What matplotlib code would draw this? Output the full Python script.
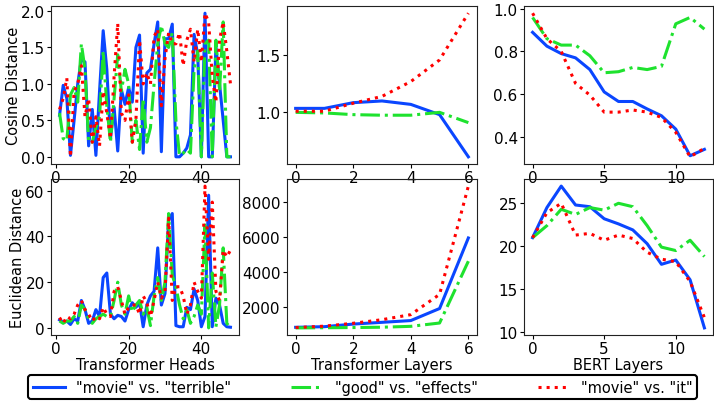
import matplotlib
matplotlib.use("Agg")
import matplotlib.pyplot as plt
import numpy as np

heads = list(range(1, 49))
layers = list(range(0, 7))
bert_layers = list(range(0, 13))

labels = ['"movie" vs. "terrible"', '"good" vs. "effects"', '"movie" vs. "it"']

# Transformer heads - cosine
heads_cos_terrible = [0.57, 0.98, 0.80, 0.02, 0.50, 1.00, 1.34, 1.30, 0.15, 0.65,
                      0.02, 0.90, 1.73, 1.20, 0.25, 0.68, 0.08, 0.92, 0.72, 0.95,
                      0.75, 1.50, 1.67, 0.05, 1.15, 1.20, 1.55, 1.85, 0.07, 1.62,
                      1.62, 1.82, 0.00, 0.00, 0.05, 0.12, 0.30, 1.68, 1.40, 0.00,
                      1.97, 0.00, 0.00, 1.52, 1.00, 0.50, 0.00, 0.00]
heads_cos_effects = [0.60, 0.25, 0.22, 0.85, 0.95, 0.75, 1.55, 1.20, 0.20, 0.20,
                     0.40, 0.55, 1.45, 0.70, 0.20, 0.80, 1.40, 0.90, 1.20, 1.00,
                     0.20, 0.50, 0.10, 0.80, 0.20, 0.40, 1.00, 1.55, 1.80, 1.55,
                     1.50, 1.70, 0.50, 0.02, 0.05, 0.10, 0.05, 1.20, 1.45, 0.00,
                     1.55, 1.60, 0.00, 1.60, 0.90, 1.85, 0.00, 0.00]
heads_cos_it = [0.65, 0.80, 1.08, 0.00, 0.90, 1.00, 1.25, 0.55, 0.80, 0.20,
                0.55, 0.15, 0.90, 0.60, 0.25, 1.10, 1.83, 0.60, 0.50, 0.85,
                0.20, 0.50, 1.60, 1.00, 1.15, 1.00, 1.65, 1.75, 0.70, 1.35,
                1.70, 1.55, 1.55, 1.70, 1.25, 1.60, 1.75, 1.30, 1.75, 1.30,
                1.97, 1.85, 1.10, 0.75, 1.60, 1.85, 1.45, 1.00]

# Transformer heads - euclidean
heads_euc_terrible = [3.5, 2.5, 3.0, 1.5, 4.0, 3.0, 12.0, 8.0, 2.0, 3.0,
                      8.0, 5.0, 22.0, 24.0, 6.0, 4.0, 5.5, 5.0, 3.0, 8.0,
                      11.0, 9.0, 11.0, 0.5, 10.0, 14.0, 16.0, 35.0, 10.0, 15.0,
                      47.0, 50.0, 1.0, 0.5, 0.5, 9.0, 8.0, 17.0, 12.0, 0.5,
                      5.0, 58.0, 0.5, 13.0, 10.0, 2.0, 0.5, 0.3]
heads_euc_effects = [3.0, 2.0, 3.0, 3.0, 5.0, 2.0, 10.0, 8.0, 4.0, 2.0,
                     4.0, 5.0, 6.0, 5.0, 5.0, 12.0, 20.0, 10.0, 6.0, 14.0,
                     7.0, 10.0, 12.0, 6.0, 9.0, 1.0, 14.0, 22.0, 12.0, 20.0,
                     50.0, 23.0, 18.0, 10.0, 4.0, 8.0, 2.0, 5.0, 10.0, 6.0,
                     45.0, 0.0, 24.0, 0.5, 10.0, 35.0, 2.0, 0.0]
heads_euc_it = [4.5, 2.0, 5.0, 4.0, 6.0, 10.0, 12.0, 8.0, 6.0, 3.0,
                5.0, 4.0, 9.0, 6.0, 5.0, 16.0, 18.0, 12.0, 6.0, 9.0,
                10.0, 10.0, 6.0, 14.0, 11.0, 5.0, 12.0, 20.0, 13.0, 16.0,
                48.0, 12.0, 18.0, 18.0, 14.0, 6.0, 10.0, 20.0, 16.0, 13.0,
                62.0, 30.0, 55.0, 16.0, 12.0, 34.0, 31.0, 34.0]

# Transformer layers
layers_cos_terrible = [1.035, 1.035, 1.085, 1.10, 1.07, 0.98, 0.61]
layers_cos_effects = [1.0, 0.995, 0.98, 0.975, 0.975, 1.0, 0.91]
layers_cos_it = [1.01, 1.01, 1.08, 1.14, 1.27, 1.46, 1.87]

layers_euc_terrible = [815, 850, 1000, 1100, 1200, 1890, 5930]
layers_euc_effects = [780, 790, 800, 820, 870, 1060, 4600]
layers_euc_it = [800, 880, 1045, 1250, 1540, 2700, 8900]

# BERT layers
bert_cos_terrible = [0.89, 0.825, 0.79, 0.77, 0.715, 0.61, 0.565, 0.565, 0.53, 0.498, 0.435, 0.31, 0.34]
bert_cos_effects = [0.96, 0.86, 0.83, 0.83, 0.78, 0.70, 0.705, 0.725, 0.715, 0.73, 0.93, 0.96, 0.905]
bert_cos_it = [0.98, 0.86, 0.80, 0.65, 0.595, 0.515, 0.515, 0.525, 0.515, 0.49, 0.42, 0.305, 0.345]

bert_euc_terrible = [21.0, 24.5, 27.0, 24.8, 24.6, 23.2, 22.6, 21.9, 20.3, 17.9, 18.4, 16.1, 10.5]
bert_euc_effects = [21.0, 22.4, 24.3, 23.7, 24.5, 24.2, 25.0, 24.6, 22.4, 19.9, 19.5, 20.7, 18.8]
bert_euc_it = [21.0, 23.9, 25.0, 21.3, 21.5, 20.7, 21.3, 20.9, 19.3, 18.5, 18.2, 15.9, 11.7]

colors = ['#0a46ff', '#1ee22e', '#ff0000']
styles = ['-', '-.', ':']
lw = 2.2
fs = 10.5

plt.rcParams['font.family'] = ['DejaVu Sans']
plt.rcParams['axes.edgecolor'] = '#222222'

fig = plt.figure(figsize=(7.14, 4.02), dpi=100)
W, H = 714.0, 402.0
cols = [(51, 239), (287, 477), (524, 713)]
rows = [(7, 165), (180, 336)]

def mkax(r, c):
    x0, x1 = cols[c]
    y0, y1 = rows[r]
    return fig.add_axes([x0 / W, 1 - y1 / H, (x1 - x0) / W, (y1 - y0) / H])

data = [
    [(heads, [heads_cos_terrible, heads_cos_effects, heads_cos_it]),
     (layers, [layers_cos_terrible, layers_cos_effects, layers_cos_it]),
     (bert_layers, [bert_cos_terrible, bert_cos_effects, bert_cos_it])],
    [(heads, [heads_euc_terrible, heads_euc_effects, heads_euc_it]),
     (layers, [layers_euc_terrible, layers_euc_effects, layers_euc_it]),
     (bert_layers, [bert_euc_terrible, bert_euc_effects, bert_euc_it])],
]
xlabels = ['Transformer Heads', 'Transformer Layers', 'BERT Layers']
ylabels = ['Cosine Distance', 'Euclidean Distance']
xticks = [[0, 20, 40], [0, 2, 4, 6], [0, 5, 10]]
yticks = [[[0.0, 0.5, 1.0, 1.5, 2.0], [1.0, 1.5], [0.4, 0.6, 0.8, 1.0]],
          [[0, 20, 40, 60], [2000, 4000, 6000, 8000], [10, 15, 20, 25]]]

handles = None
left_axes = []
for r in range(2):
    for c in range(3):
        ax = mkax(r, c)
        ax.patch.set_alpha(0)
        xs, series = data[r][c]
        hs = []
        for s, col, ls, lab in zip(series, colors, styles, labels):
            h, = ax.plot(xs, s, color=col, linestyle=ls, linewidth=lw, label=lab)
            hs.append(h)
        if handles is None:
            handles = hs
        ax.set_xticks(xticks[c])
        ax.set_yticks(yticks[r][c])
        ax.tick_params(labelsize=11, length=3, pad=1.5)
        if r == 1:
            ax.set_xlabel(xlabels[c], fontsize=fs, labelpad=0.5)
        if c == 0:
            ax.set_ylabel(ylabels[r], fontsize=fs, labelpad=0)
            left_axes.append(ax)

fig.align_ylabels(left_axes)

leg = fig.legend(handles, labels, loc='center', bbox_to_anchor=(0.508, 0.034),
                 ncol=3, fontsize=fs, frameon=True, fancybox=True,
                 edgecolor='black', framealpha=1, columnspacing=4.1,
                 handlelength=2.2, borderpad=0.3)
leg.get_frame().set_linewidth(1.5)

fig.savefig('out.png', dpi=100)
